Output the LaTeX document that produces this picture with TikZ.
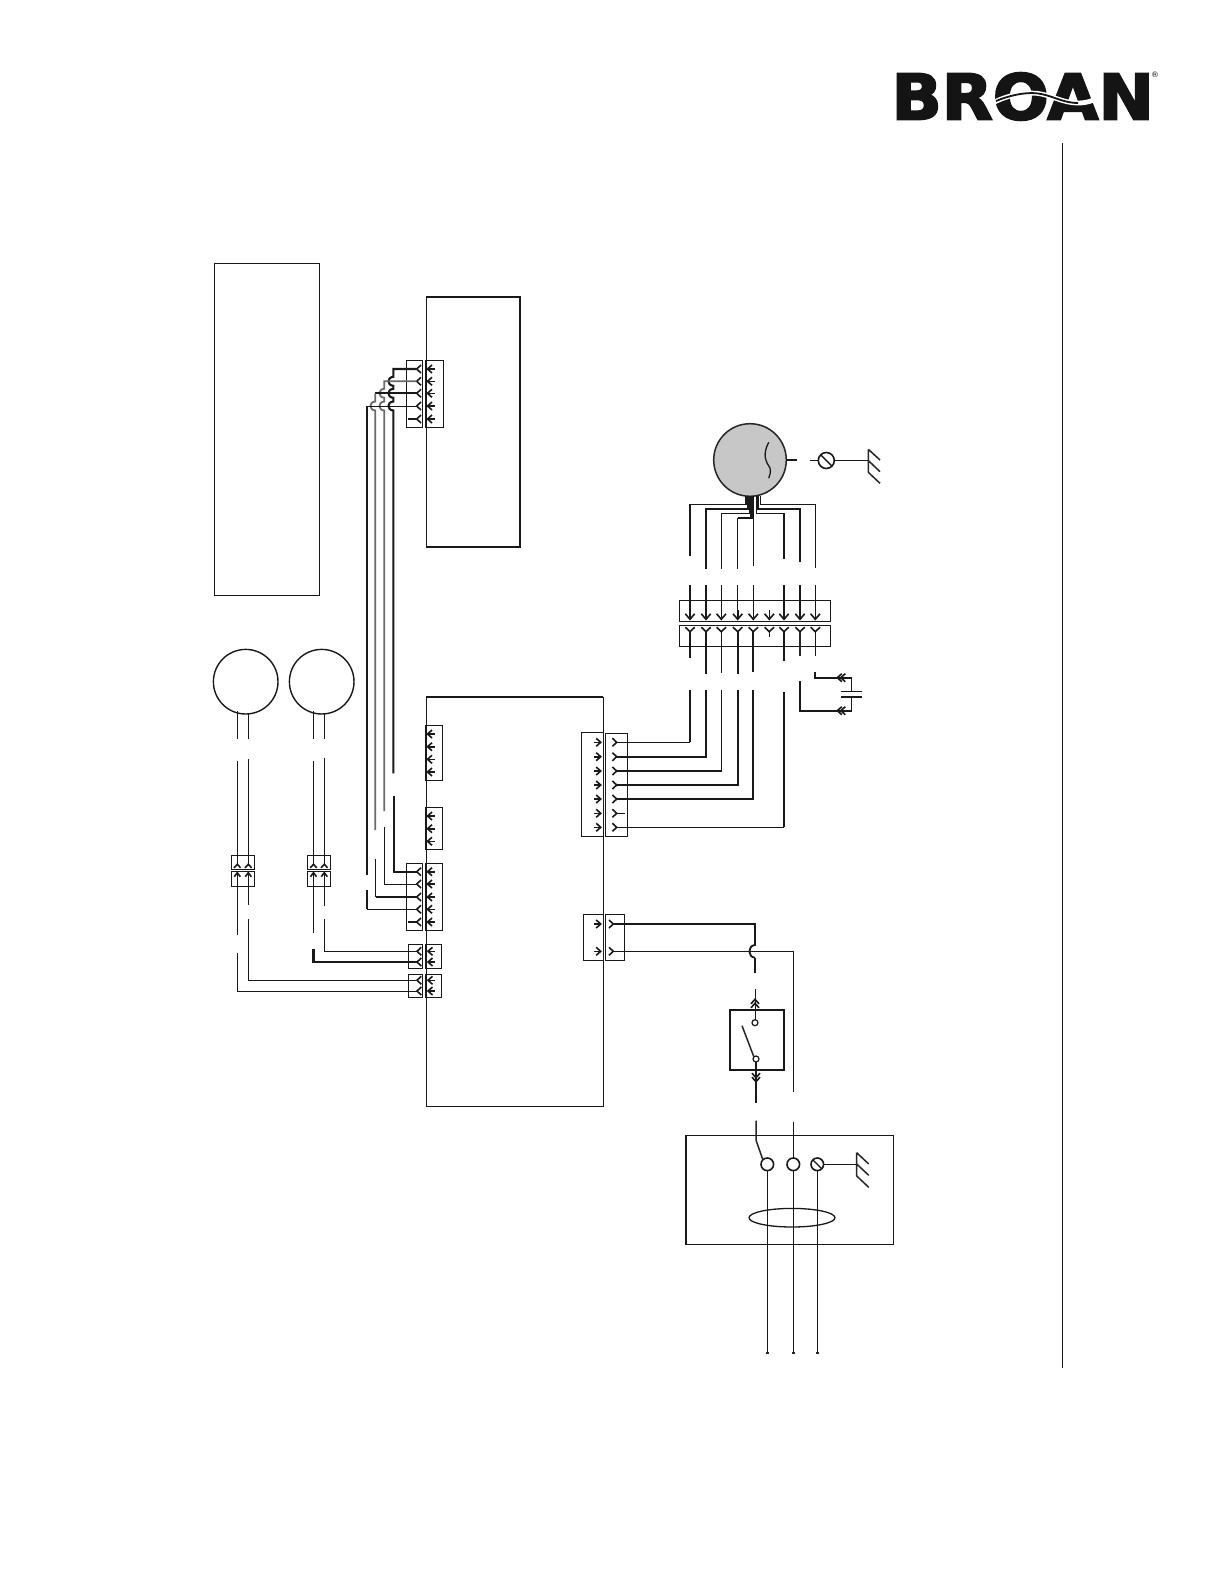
\documentclass[tikz,border=0pt]{standalone}
\usepackage{fontspec}
\usetikzlibrary{shapes.geometric}
\setmainfont{TeX Gyre Heros}
\newfontfamily\logofont{DejaVu Sans}[BoldFeatures={FakeBold=3}]
\newcommand{\pl}{4.3}\newcommand{\pw}{4}\newcommand{\al}{4.5}\newcommand{\aw}{4}\newcommand{\at}{7}
\newcommand{\boxn}[5]{\node[unitbox,minimum width={(#4-#2)*0.5pt},minimum height={(#5-#3)*0.5pt},anchor=north west] (#1) at (#2,#3) {};}
% fork contact: opens in direction (dx,dy)
\newcommand{\pinfork}[5]{\coordinate (#1) at (#2,#3);
  \draw[pinmark] ({#2+\pl*#4+\pw*#5},{#3+\pl*#5+\pw*#4}) -- (#1) -- ({#2+\pl*#4-\pw*#5},{#3+\pl*#5-\pw*#4});}
% arrow contact: points in direction (dx,dy)
\newcommand{\pinarrow}[5]{\coordinate (#1) at (#2,#3);
  \draw[pinmark] ({#2-\al*#4+\aw*#5},{#3-\al*#5+\aw*#4}) -- (#1) -- ({#2-\al*#4-\aw*#5},{#3-\al*#5-\aw*#4});
  \draw[pinmark] (#1) -- ({#2-\at*#4},{#3-\at*#5});}
\newcommand{\chev}[5]{\draw[pinmark] ({#1-4.5*#3+4*#4},{#2-4.5*#4+4*#3}) -- (#1,#2) -- ({#1-4.5*#3-4*#4},{#2-4.5*#4-4*#3});
  \draw[pinmark] ({#1-#5*#3-4.5*#3+4*#4},{#2-#5*#4-4.5*#4+4*#3}) -- ({#1-#5*#3},{#2-#5*#4}) -- ({#1-#5*#3-4.5*#3-4*#4},{#2-#5*#4-4.5*#4-4*#3});}
\tikzset{
  unitbox/.style={draw=black!90,line width=0.5pt,inner sep=0pt,outer sep=0pt,fill=none},
  pinmark/.style={draw=black!90,line width=0.8pt},
  thinw/.style={draw=black!90,line width=0.5pt},
  midw/.style={draw=black!85,line width=0.75pt},
  thickw/.style={draw=black!90,line width=1.05pt},
  grayw/.style={draw=black!58,line width=0.9pt},
  ringst/.style={circle,draw=black!90,inner sep=0pt,outer sep=0pt,fill=white}
}
\begin{document}
\begin{tikzpicture}[x=0.5pt,y=-0.5pt]
\useasboundingbox (0,0) rectangle (1224,1584);
\fill[white] (0,0) rectangle (1224,1584);

% ---------- logo
\node[anchor=west,inner sep=0pt,xscale=1.05,font=\logofont\fontsize{31.5}{31.5}\selectfont\bfseries,text=black!92] (logo) at (891,96.5) {BROAN};
\draw[white,line width=2.4pt] (990,104.3) .. controls (1005,96) and (1022,92) .. (1036.7,93.3) .. controls (1052,95) and (1062,103) .. (1078,103) .. controls (1088,103) and (1095,100) .. (1100,96);
\draw[black!92,line width=0.9pt] (996,101) .. controls (1008,96) and (1024,92) .. (1036.7,93.3) .. controls (1052,95) and (1062,103) .. (1078,103);
\node[inner sep=0pt,font=\fontsize{4}{4}\selectfont] (reg) at (1155,75) {®};
\coordinate (ruleA) at (1062.5,143);
\coordinate (ruleB) at (1062.5,1367.7);
\draw[thinw,line width=0.6pt] (ruleA) -- (ruleB);

% ---------- plain boxes
\boxn{legend}{214.3}{263}{319}{595}
\boxn{upperboard}{426}{297}{520}{547}
\draw[line width=0.7pt,draw=black!90] (upperboard.north west) -- (upperboard.north east) -- (upperboard.south east) -- (upperboard.south west);
\boxn{mainboard}{426}{697}{603.4}{1106}
\draw[line width=0.7pt,draw=black!90] (mainboard.north west) -- (mainboard.north east);
\node[ringst,line width=0.7pt,minimum size=64.6*0.5pt] (fanA) at (245.7,681.7) {};
\node[ringst,line width=0.7pt,minimum size=64.6*0.5pt] (fanB) at (321.7,681.7) {};

% ---------- upper board connector
\boxn{uL}{406.3}{360}{422.3}{427}
\boxn{uR}{425.7}{360}{443.3}{427}
\foreach \n/\y in {1/369,2/381.3,3/393.3,4/406,5/419}{
  \pinfork{uf\n}{416.7}{\y}{1}{0}
  \pinarrow{ua\n}{427.5}{\y}{-1}{0}
}
% ---------- main board left connectors
\boxn{tb1}{425.7}{725}{442.3}{780}
\foreach \n/\y in {1/734,2/746.7,3/759.3,4/772}{\pinarrow{ta\n}{427.5}{\y}{-1}{0}}
\boxn{tb2}{425.7}{807.3}{442.3}{849.3}
\foreach \n/\y in {1/816,2/828.7,3/841.3}{\pinarrow{tc\n}{427.5}{\y}{-1}{0}}
\boxn{mL}{406.3}{863.3}{422.3}{930.3}
\boxn{mR}{425.7}{863.3}{442.3}{930.3}
\foreach \n/\y in {1/871.7,2/884,3/897,4/909.3,5/922}{
  \pinfork{mf\n}{416.7}{\y}{1}{0}
  \pinarrow{ma\n}{427.5}{\y}{-1}{0}
}
\boxn{sL}{408.3}{944.3}{422.3}{968.3}
\boxn{sR}{425.7}{944.3}{441.3}{968.3}
\boxn{rL}{408.3}{974}{422.3}{997.7}
\boxn{rR}{425.7}{974}{441.3}{997.7}
\foreach \n/\y in {1/951.3,2/962,3/980.3,4/991}{
  \pinfork{sf\n}{417}{\y}{1}{0}
  \pinarrow{sa\n}{428}{\y}{-1}{0}
}

% ---------- harness between upper board and main board
\draw[thickw] (uf1) -- (393.3,369) -- (393.3,376.8) .. controls (386.8,377.3) and (386.8,385.3) .. (393.3,385.8) -- (393.3,388.8) .. controls (386.8,389.3) and (386.8,397.3) .. (393.3,397.8) -- (393.3,401.5) .. controls (386.8,402) and (386.8,410) .. (393.3,410.5) -- (393.3,773.3);
\draw[grayw] (uf2) -- (384.3,381.3) -- (384.3,388.8) .. controls (377.8,389.3) and (377.8,397.3) .. (384.3,397.8) -- (384.3,401.5) .. controls (377.8,402) and (377.8,410) .. (384.3,410.5) -- (384.3,811);
\draw[thickw] (uf3) -- (375.3,393.3);
\draw[grayw] (375.3,393.3) -- (375.3,401.5) .. controls (368.8,402) and (368.8,410) .. (375.3,410.5) -- (375.3,830);
\draw[thinw] (uf4) -- (366.7,406);
\draw[thickw] (366.7,406) -- (366.7,875);
\draw[thickw] (uf5) -- (408.3,419);
\draw[thickw] (mf1) -- (393.7,871.7) -- (393.7,795.7);
\draw[thinw] (mf2) -- (384.7,884) -- (384.7,826.7);
\draw[thickw] (mf3) -- (375.7,897);
\draw[thinw] (375.7,897) -- (375.7,859);
\draw[thinw] (mf4) -- (366.7,909.3);
\draw[thickw] (366.7,909.3) -- (366.7,890);
\draw[thickw] (mf5) -- (408.3,922);

% ---------- fans and their connectors
\boxn{fa1}{231.3}{855.3}{254.7}{869.7}
\boxn{fa2}{231.3}{871.3}{254.7}{886}
\boxn{fb1}{307.3}{855.3}{330.7}{869.7}
\boxn{fb2}{307.3}{871.3}{330.7}{886}
\begin{scope}
\renewcommand{\pl}{3.5}\renewcommand{\pw}{3.3}\renewcommand{\al}{4}\renewcommand{\aw}{3}\renewcommand{\at}{5}
\foreach \n/\x in {1/237.3,2/248.3,3/313.5,4/324.3}{
  \pinfork{ff\n}{\x}{864.3}{0}{1}
  \pinarrow{fg\n}{\x}{872.7}{0}{-1}
}
\end{scope}
\draw[thinw] (237.3,711) -- (237.3,739);
\draw[thinw] (248.3,713) -- (248.3,739);
\draw[thinw] (313.5,711) -- (313.5,739);
\draw[thinw] (324.3,713) -- (324.3,739);
\draw[thinw] (237.3,760.7) -- (ff1);
\draw[thinw] (248.3,759) -- (ff2);
\draw[thinw] (313.5,760.7) -- (ff3);
\draw[thinw] (324.3,758) -- (ff4);
\draw[thinw] (fg1) -- (237.3,935);
\draw[thinw] (fg2) -- (248.3,905);
\draw[thinw] (fg3) -- (313.5,932.7);
\draw[thinw] (fg4) -- (324.3,906);
\draw[thinw] (sf4) -- (237.3,991) -- (237.3,953.3);
\draw[thinw] (sf3) -- (248.3,980.3) -- (248.3,919.3);
\draw[thickw] (sf2) -- (313.5,962) -- (313.5,949.3);
\draw[thinw] (sf1) -- (324.3,951.3) -- (324.3,919.3);

% ---------- motor
\node[circle,draw=black!85,line width=0.75pt,fill=black!22,inner sep=0pt,outer sep=0pt,minimum size=72.6*0.5pt] (motor) at (750,460) {};
\draw[thinw,line width=0.65pt] (768.7,442.3) .. controls (762,455) and (766,462) .. (770,468) .. controls (771,472) and (770,475) .. (768.7,478.3);
\draw[thinw,line width=0.65pt] (motor.east) -- (796.7,460);
\node[ringst,line width=0.8pt,minimum size=16*0.5pt] (mscrew) at (826.3,460.5) {};
\draw[thinw,line width=0.7pt] (mscrew.north west) -- (mscrew.south east);
\coordinate (mgnd) at (868.3,460.5);
\draw[thinw,line width=0.65pt] (810,460.5) -- (mscrew.west);
\draw[thinw] (mscrew.east) -- (mgnd);
\draw[midw] (868.3,449.3) -- (868.3,472.3) (868.3,449.3) -- (880,460) (868.3,460.5) -- (880,471.7) (868.3,472.3) -- (880,483.3);

\draw[thickw,line width=0.8pt] (745.7,496) -- (745.7,504.3) -- (690,504.3) -- (690,555.7);
\draw[thickw] (747.7,496) -- (747.7,508.7) -- (706,508.7) -- (706,569);
\draw[thinw] (749.5,496) -- (749.5,513.3) -- (721.3,513.3) -- (721.3,569.3);
\draw[thickw] (751.5,496) -- (751.5,517.7) -- (737.7,517.7);
\draw[thinw] (737.7,517.7) -- (737.7,569);
\draw[thinw] (753.3,496) -- (753.3,565.7);
\draw[thinw] (756,496) -- (756,513.3) -- (784,513.3);
\draw[thickw] (784,513.3) -- (784,558.7);
\draw[thickw] (758,496) -- (758,508.7) -- (800,508.7) -- (800,562);
\draw[thinw] (760.3,496) -- (760.3,504.3) -- (815.3,504.3) -- (815.3,568.3);

% ---------- motor plug
\boxn{pU}{679.3}{600.3}{830.3}{621.3}
\boxn{pL}{679.3}{625.3}{830.3}{646.3}
\begin{scope}
\renewcommand{\al}{5.5}\renewcommand{\aw}{4.7}\renewcommand{\at}{9}\renewcommand{\pl}{4.5}\renewcommand{\pw}{4.7}
\foreach \n/\x in {1/690,2/706,3/721.3,4/737.7,5/753.3,6/769.3,7/784,8/800,9/815.3}{
  \pinarrow{pa\n}{\x}{619.3}{0}{1}
  \pinfork{pf\n}{\x}{631.7}{0}{-1}
}
\end{scope}
\foreach \n/\x/\st in {1/690/thickw,2/706/thickw,3/721.3/thinw,4/737.7/thinw,5/753.3/thinw,7/784/thickw,8/800/thickw,9/815.3/thinw}{
  \draw[\st] (\x,585) -- (pa\n);
}
\draw[thickw] (pf1) -- (690,658.3);
\draw[thickw] (pf2) -- (706,674);
\draw[thinw] (pf3) -- (721.3,673.3);
\draw[thickw] (pf4) -- (737.7,674);
\draw[thickw] (pf5) -- (753.3,671.7);
\draw[thinw] (pf6) -- (769.3,637.3);
\draw[thickw] (pf7) -- (784,660.7);
\draw[midw] (pf8) -- (800,655.7);
\draw[thinw] (pf9) -- (815.3,655.7);

% ---------- capacitor
\coordinate (capA) at (851.7,691.7);
\coordinate (capB) at (851.7,697.3);
\draw[thickw,line width=0.9pt] (815.3,672.3) -- (815.3,677.7) -- (851.7,677.7);
\draw[thinw] (851.7,677.7) -- (capA);
\draw[thickw] (800,680.7) -- (800,710.7) -- (851.7,710.7);
\draw[thinw] (851.7,710.7) -- (capB);
\draw[thinw] (841,691.7) -- (862,691.7);
\draw[thickw] (841,697.3) -- (862,697.3);
\chev{837.3}{677.7}{-1}{0}{3.5}
\chev{837.3}{710.7}{-1}{0}{3.5}

% ---------- main board right connector
\boxn{qL}{581.3}{732.7}{603.3}{836.3}
\boxn{qR}{605.3}{733.3}{627.7}{836.3}
\foreach \n/\y in {1/742.3,2/756.7,3/771,4/785,5/799,6/813.3,7/827.3}{
  \pinarrow{qa\n}{600.7}{\y}{1}{0}
  \pinfork{qf\n}{616.7}{\y}{-1}{0}
}
\draw[thinw] (qf1) -- (690,742.3);
\draw[thickw] (690,742.3) -- (690,690);
\draw[thickw] (qf2) -- (706,756.7) -- (706,690);
\draw[thickw] (qf3) -- (721.7,771);
\draw[thinw] (721.7,771) -- (721.7,690);
\draw[thickw] (qf4) -- (737.7,785) -- (737.7,690);
\draw[thickw] (qf5) -- (753,799) -- (753,690);
\draw[thinw] (qf6) -- (625,813.3);
\draw[thinw] (qf7) -- (784,827.3);
\draw[thickw] (784,827.3) -- (784,692.3);

% ---------- line connector
\boxn{vL}{583.3}{914.3}{603.3}{960}
\boxn{vR}{605.3}{914.3}{624.3}{960}
\foreach \n/\y in {1/924,2/951.3}{
  \pinarrow{va\n}{600.7}{\y}{1}{0}
  \pinfork{vf\n}{613.3}{\y}{-1}{0}
}
\draw[thickw,line width=0.9pt] (vf1) -- (755,924) -- (755,945) .. controls (747.5,945.5) and (747.5,957.2) .. (755,957.7);
\draw[thinw,line width=0.7pt] (755,957.7) -- (755,973.3);
\draw[thinw,line width=0.6pt] (vf2) -- (793.3,951.3) -- (793.3,1091.7);

% ---------- switch
\boxn{switch}{730}{1010}{784}{1070}
\draw[line width=1pt,draw=black!90] (switch.north west) rectangle (switch.south east);
\node[ringst,line width=0.6pt,minimum size=6*0.5pt] (swA) at (755,1022.7) {};
\node[ringst,line width=0.6pt,minimum size=6*0.5pt] (swB) at (756,1059) {};
\draw[thinw] (755,989.3) -- (swA.north);
\draw[midw] (742,1025.7) -- (swB.north west);
\draw[thickw] (swB.south) -- (756,1103.3);
\chev{755}{999.3}{0}{-1}{4}
\chev{756}{1081.7}{0}{1}{4}

% ---------- terminal box
\boxn{terminal}{685.7}{1135.3}{893.3}{1244}
\draw[line width=0.9pt,draw=black!90] (685.7,1135.3) -- (685.7,1244);
\node[ringst,line width=0.8pt,minimum size=12.6*0.5pt] (tL) at (767.3,1164.3) {};
\node[ringst,line width=0.8pt,minimum size=12.6*0.5pt] (tN) at (793.3,1164.3) {};
\node[ringst,line width=0.8pt,minimum size=12.6*0.5pt] (tG) at (817.3,1164.3) {};
\draw[thinw,line width=0.7pt] (tG.north west) -- (tG.south east);
\draw[midw] (756,1120.7) -- (756,1140) -- (tL.north west);
\draw[thinw] (793.3,1121.7) -- (tN.north);
\coordinate (tgnd) at (856.7,1164.3);
\draw[thinw] (tG.east) -- (tgnd);
\draw[midw] (856.7,1152.7) -- (856.7,1176) (856.7,1152.7) -- (868.7,1164) (856.7,1164) -- (868.7,1175.3) (856.7,1176) -- (868.7,1187.3);
\node[draw=black!90,line width=0.65pt,ellipse,inner sep=0pt,minimum width=86*0.5pt,minimum height=18.6*0.5pt] (cable) at (792,1217.7) {};
\coordinate (endL) at (767.3,1353);
\coordinate (endN) at (793.3,1353);
\coordinate (endG) at (817.3,1353);
\draw[thinw] (tL.south) -- (endL);
\draw[thinw] (tN.south) -- (endN);
\draw[thinw] (tG.south) -- (endG);
\foreach \c in {endL,endN,endG}{\fill[black!85] (\c) ++(-1.4,-1.4) rectangle ++(2.8,2.8);}
\end{tikzpicture}
\end{document}
